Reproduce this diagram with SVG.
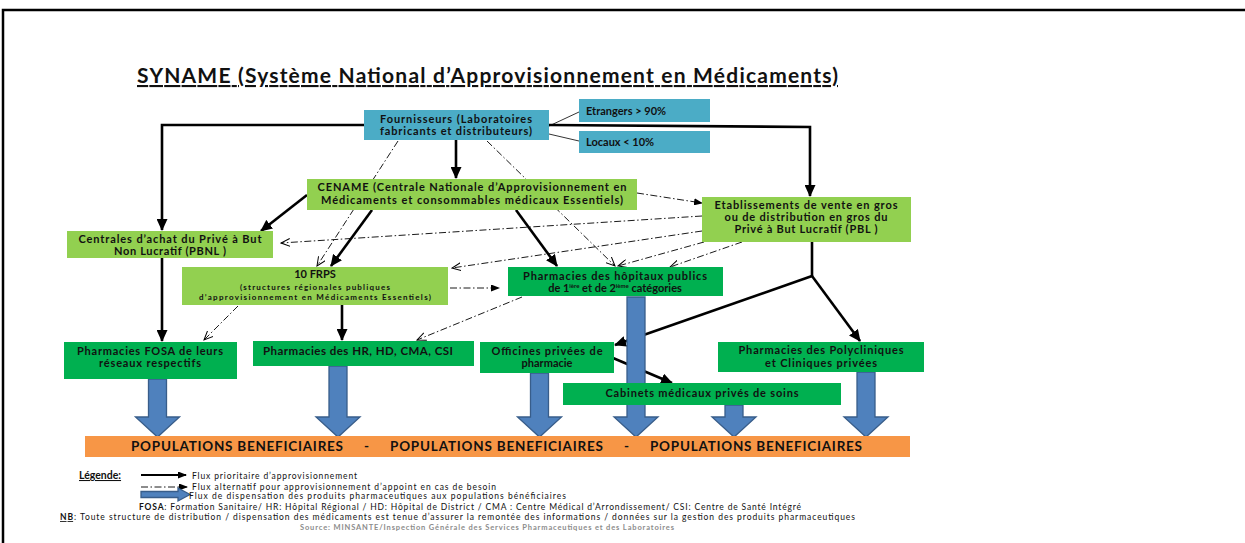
<svg xmlns="http://www.w3.org/2000/svg" width="1245" height="543" viewBox="0 0 1245 543">
<style>
text{font-family:Lato,"Liberation Sans",sans-serif;fill:#111;}
.b{font-weight:bold;}
.t{font-size:11px;font-weight:bold;text-anchor:middle;}
.lg{fill:#92D050;}
.dg{fill:#00B050;}
.bl{fill:#4BACC6;}
.thick{stroke:#000;stroke-width:2.6;fill:none;marker-end:url(#ah);}
.dd{stroke:#000;stroke-width:0.9;fill:none;stroke-dasharray:7 2.5 1.5 2.5;}
.open{marker-end:url(#ao);}
.fill{marker-end:url(#af);}
.blk{fill:#4F81BD;stroke:#385D8A;stroke-width:1.3;}
.leg{font-size:8.5px;}
</style>
<defs>
<marker id="ah" markerUnits="userSpaceOnUse" markerWidth="12" markerHeight="11" refX="11" refY="5.5" orient="auto"><path d="M0,0 L12,5.5 L0,11 z" fill="#000"/></marker>
<marker id="af" markerUnits="userSpaceOnUse" markerWidth="9" markerHeight="7" refX="8" refY="3.5" orient="auto"><path d="M0,0 L9,3.5 L0,7 z" fill="#000"/></marker>
<marker id="ao" markerUnits="userSpaceOnUse" markerWidth="10" markerHeight="9" refX="9" refY="4.5" orient="auto"><path d="M0,0.5 L9,4.5 L0,8.5" fill="none" stroke="#000" stroke-width="1"/></marker>
</defs>
<rect width="1245" height="543" fill="#fff"/>
<path d="M3,543 L3,10 L1245,10" fill="none" stroke="#000" stroke-width="2.5"/>
<text x="137" y="83" class="b" font-size="21" textLength="701" text-decoration="underline">SYNAME (Système National d’Approvisionnement en Médicaments)</text>

<g id="connectors">
<line x1="549" y1="126" x2="579" y2="112" stroke="#000" stroke-width="0.8"/>
<line x1="549" y1="134" x2="579" y2="141" stroke="#000" stroke-width="0.8"/>
<polyline class="thick" points="364,125 162,125 162,230"/>
<line class="thick" x1="456" y1="140" x2="456" y2="178"/>
<polyline class="thick" points="549,125 810,127 810,196"/>
<line class="thick" x1="307" y1="195" x2="261" y2="231"/>
<line class="thick" x1="372" y1="210" x2="331" y2="266"/>
<line class="thick" x1="516" y1="210" x2="557" y2="266"/>
<line class="thick" x1="162" y1="258" x2="162" y2="341"/>
<line class="thick" x1="342" y1="305" x2="342" y2="340"/>
<line x1="812" y1="242" x2="812" y2="276" stroke="#000" stroke-width="2.6"/>
<line class="thick" x1="812" y1="276" x2="615" y2="345"/>
<line class="thick" x1="812" y1="276" x2="860" y2="341"/>
<line class="thick" x1="613" y1="358" x2="672" y2="383"/>
<line class="dd open" x1="398" y1="141" x2="317" y2="266"/>
<line class="dd open" x1="487" y1="141" x2="615" y2="266"/>
<line class="dd fill" x1="637" y1="193" x2="702" y2="203"/>
<line class="dd open" x1="702" y1="216" x2="281" y2="243"/>
<line class="dd open" x1="702" y1="231" x2="452" y2="268"/>
<line class="dd open" x1="704" y1="242" x2="618" y2="266"/>
<line class="dd open" x1="742" y1="242" x2="670" y2="267"/>
<line class="dd fill" x1="450" y1="288" x2="499" y2="288"/>
<line class="dd open" x1="238" y1="306" x2="204" y2="340"/>
<line class="dd open" x1="522" y1="297" x2="417" y2="340"/>
<path class="blk" d="M148.5,379 L166.5,379 L166.5,417 L179.5,417 L157.5,437 L135.5,417 L148.5,417 Z"/>
<path class="blk" d="M329,366 L347,366 L347,417 L360,417 L338,437 L316,417 L329,417 Z"/>
<path class="blk" d="M530.5,373 L548.5,373 L548.5,417 L561.5,417 L539.5,437 L517.5,417 L530.5,417 Z"/>
<path class="blk" d="M627,297 L645,297 L645,417 L658,417 L636,437 L614,417 L627,417 Z"/>
<path class="blk" d="M725,405 L743,405 L743,417 L756,417 L734,437 L712,417 L725,417 Z"/>
<path class="blk" d="M857,372 L875,372 L875,417 L888,417 L866,437 L844,417 L857,417 Z"/>
</g>

<g id="fournisseurs">
<rect class="bl" x="364" y="110" width="185" height="30"/>
<text class="t" x="456" y="123" textLength="152">Fournisseurs (Laboratoires</text>
<text class="t" x="456" y="135" textLength="152">fabricants et distributeurs)</text>
</g>
<g id="etrangers">
<rect class="bl" x="579" y="99" width="131" height="23"/>
<text class="b" font-size="11" x="586" y="115">Etrangers &gt; 90%</text>
</g>
<g id="locaux">
<rect class="bl" x="579" y="131" width="131" height="22"/>
<text class="b" font-size="11" x="586" y="146">Locaux &lt; 10%</text>
</g>
<g id="cename">
<rect class="lg" x="307" y="179" width="330" height="31"/>
<text class="t" font-size="11.5" x="472" y="191" textLength="309">CENAME (Centrale Nationale d’Approvisionnement en</text>
<text class="t" font-size="11.5" x="472" y="204" textLength="302">Médicaments et consommables médicaux Essentiels)</text>
</g>
<g id="centrales">
<rect class="lg" x="67" y="231" width="206" height="27"/>
<text class="t" x="170" y="243" textLength="183">Centrales d’achat du Privé à But</text>
<text class="t" x="170" y="255" textLength="112">Non Lucratif (PBNL )</text>
</g>
<g id="etablissements">
<rect class="lg" x="702" y="197" width="209" height="45"/>
<text class="t" x="806" y="209" textLength="183">Etablissements de vente en gros</text>
<text class="t" x="806" y="221" textLength="163">ou de distribution en gros du</text>
<text class="t" x="806" y="233" textLength="143">Privé à But Lucratif (PBL )</text>
</g>
<g id="frps">
<rect class="lg" x="182" y="267" width="266" height="38"/>
<text class="t" x="315" y="278"><tspan x="315" y="278">10 FRPS</tspan><tspan x="315" y="290" font-size="8" textLength="150">(structures régionales publiques</tspan><tspan x="315" y="300" font-size="8" textLength="232">d’approvisionnement en Médicaments Essentiels)</tspan></text>
</g>
<g id="hopitaux">
<rect class="dg" x="508" y="267" width="215" height="29"/>
<text class="t" x="615" y="280" textLength="184">Pharmacies des hôpitaux publics</text>
<text class="t" x="615" y="292">de 1<tspan font-size="6" dy="-4">ière</tspan><tspan dy="4">  et de 2</tspan><tspan font-size="6" dy="-4">ième</tspan><tspan dy="4">  catégories</tspan></text>
</g>
<g id="fosa">
<rect class="dg" x="64" y="342" width="173" height="37"/>
<text class="t" x="150" y="355" textLength="146">Pharmacies FOSA de leurs</text>
<text class="t" x="150" y="367" textLength="102">réseaux respectifs</text>
</g>
<g id="hr">
<rect class="dg" x="253" y="341" width="221" height="25"/>
<text class="b" font-size="11.5" x="263" y="355" textLength="190">Pharmacies des HR, HD, CMA, CSI</text>
</g>
<g id="officines">
<rect class="dg" x="480" y="342" width="134" height="31"/>
<text class="t" x="547" y="355" textLength="111">Officines privées de</text>
<text class="t" x="547" y="367">pharmacie</text>
</g>
<g id="polycliniques">
<rect class="dg" x="718" y="342" width="206" height="30"/>
<text class="t" x="821" y="354" textLength="165">Pharmacies des Polycliniques</text>
<text class="t" x="821" y="367" textLength="112">et Cliniques privées</text>
</g>
<g id="cabinets">
<rect class="dg" x="563" y="383" width="278" height="22"/>
<text class="t" font-size="11.5" x="702" y="397" textLength="193">Cabinets médicaux privés de soins</text>
</g>
<g id="populations">
<rect x="85" y="436" width="825" height="21" fill="#F79646"/>
<text class="b" font-size="13.5" x="131" y="451" textLength="212">POPULATIONS BENEFICIAIRES</text>
<text class="b" font-size="13.5" x="364" y="451">-</text>
<text class="b" font-size="13.5" x="390" y="451" textLength="213">POPULATIONS BENEFICIAIRES</text>
<text class="b" font-size="13.5" x="624" y="451">-</text>
<text class="b" font-size="13.5" x="650" y="451" textLength="212">POPULATIONS BENEFICIAIRES</text>
</g>

<g id="legende">
<text class="b" font-size="10.5" x="79" y="479" text-decoration="underline">Légende:</text>
<line x1="141" y1="475" x2="186" y2="475" stroke="#000" stroke-width="2.2" marker-end="url(#af)"/>
<text class="leg" x="192" y="479" textLength="165">Flux prioritaire d’approvisionnement</text>
<line class="dd fill" x1="141" y1="487" x2="187" y2="487"/>
<text class="leg" x="192" y="490" textLength="304">Flux alternatif pour approvisionnement d’appoint en cas de besoin</text>
<path class="blk" d="M141,491.5 L178,491.5 L178,488 L190,494.5 L178,501 L178,497.5 L141,497.5 Z"/>
<text class="leg" x="189" y="499" textLength="377">Flux de dispensation des produits pharmaceutiques aux populations bénéficiaires</text>
<text class="leg" x="139" y="510" textLength="662"><tspan class="b">FOSA</tspan>: Formation Sanitaire/ HR: Hôpital Régional / HD: Hôpital de District / CMA : Centre Médical d’Arrondissement/ CSI: Centre de Santé Intégré</text>
<text class="leg" x="60" y="520" textLength="795"><tspan class="b" text-decoration="underline">NB</tspan>: Toute structure de distribution / dispensation des médicaments est tenue d’assurer la remontée des informations / données sur la gestion des produits pharmaceutiques</text>
<text class="b" font-size="7.5" x="300" y="530" textLength="374" style="fill:#8c8c8c">Source: MINSANTE/Inspection Générale des Services Pharmaceutiques et des Laboratoires</text>
</g>
</svg>
